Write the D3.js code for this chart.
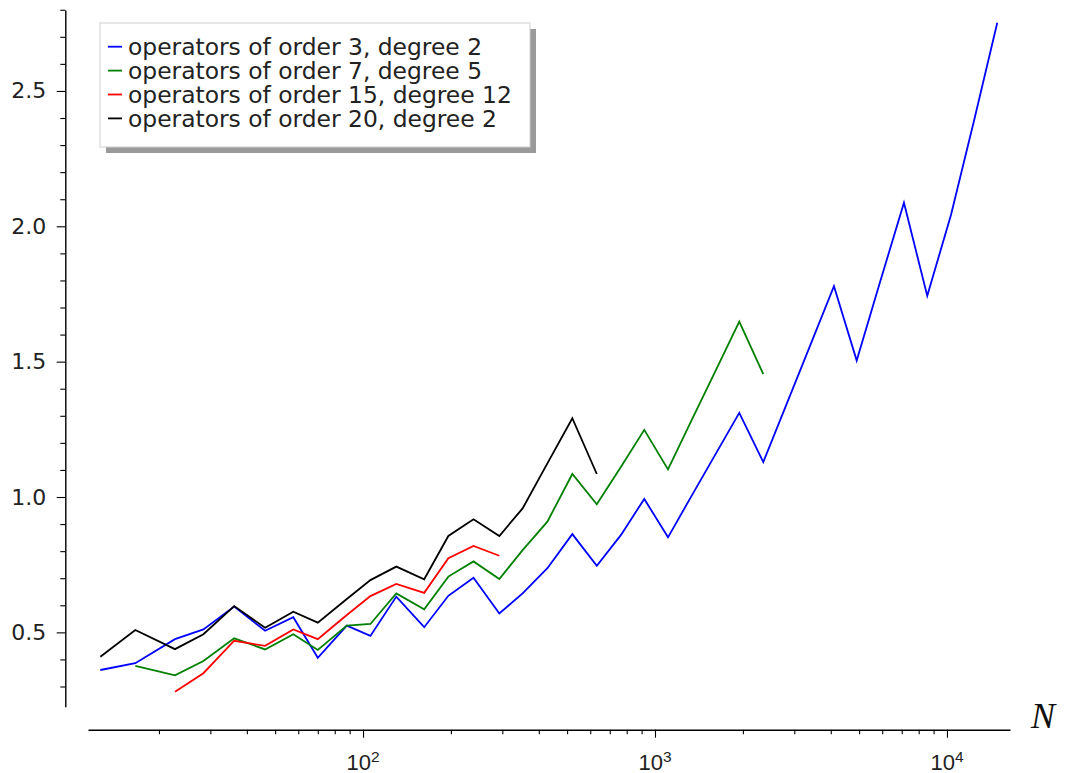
<!DOCTYPE html>
<html>
<head>
<meta charset="utf-8">
<script src="https://cdn.jsdelivr.net/npm/d3@7/dist/d3.min.js"></script>
<style>
  body { margin: 0; background: #fff; }
  svg { display: block; font-family: "DejaVu Sans", sans-serif; }
</style>
</head>
<body>
<svg id="chart" width="1065" height="773"></svg>
<script>
// N values shared by all series
var nValues = [12.6, 16.6, 22.7, 28.4, 36.2, 46.2, 57.7, 70, 88, 106, 130, 162, 196, 239, 293,
  352, 428, 521, 632, 765, 919, 1108, 1339, 1618, 1944, 2349, 2832, 3396, 4102, 4907, 5896,
  7124, 8561, 10320, 12372, 14870];

var order3 = [0.361, 0.386, 0.475, 0.511, 0.595, 0.506, 0.556, 0.406, 0.525, 0.487, 0.632,
  0.519, 0.635, 0.702, 0.570, 0.644, 0.737, 0.863, 0.746, 0.860, 0.993, 0.851, 1.007, 1.161,
  1.311, 1.129, 1.347, 1.558, 1.779, 1.504, 1.793, 2.087, 1.743, 2.042, 2.389, 2.752];
var order7 = [0.376, 0.341, 0.394, 0.478, 0.437, 0.493, 0.435, 0.525, 0.531, 0.644, 0.585,
  0.706, 0.762, 0.697, 0.804, 0.909, 1.085, 0.973, 1.112, 1.248, 1.102, 1.287, 1.470, 1.648, 1.454];
var order15 = [0.281, 0.349, 0.469, 0.450, 0.511, 0.475, 0.564, 0.634, 0.679, 0.646, 0.774,
  0.819, 0.783];
var order20 = [0.410, 0.509, 0.438, 0.493, 0.597, 0.517, 0.576, 0.536, 0.623, 0.693, 0.743,
  0.696, 0.856, 0.918, 0.856, 0.958, 1.124, 1.291, 1.085];

// first index into nValues for each series
var seriesStart = [0, 1, 2, 0];
var seriesNames = ["operators of order 3, degree 2", "operators of order 7, degree 5",
  "operators of order 15, degree 12", "operators of order 20, degree 2"];
var seriesColors = ["#0000ff", "#008000", "#ff0000", "#000000"];

var xMajor = [100, 1000, 10000];
var xMajorExp = ["2", "3", "4"];
var yMajor = [0.5, 1.0, 1.5, 2.0, 2.5];
var yMinor = [0.3, 0.4, 0.6, 0.7, 0.8, 0.9, 1.1, 1.2, 1.3, 1.4, 1.6, 1.7, 1.8, 1.9, 2.1, 2.2,
  2.3, 2.4, 2.6, 2.7, 2.8];

(function() {
  var svg = d3.select("#chart");

  var x = d3.scaleLog()
      .domain([11.43, 16440])
      .range([88, 1010]);

  var y = d3.scaleLinear()
      .domain([0.2254, 2.799])
      .range([706.7, 10]);

  // minor ticks on the log axis: 2..9 in every decade inside the domain
  var xMinor = [];
  [10, 100, 1000, 10000].forEach(function(d) {
    for (var k = 2; k <= 9; k++) {
      var v = d * k;
      if (v > x.domain()[0] && v < x.domain()[1]) xMinor.push(v);
    }
  });

  var xAxisY = 729.7, yAxisX = 65.3;

  // x axis
  var gx = svg.append("g").attr("transform", "translate(0," + xAxisY + ")");
  gx.call(d3.axisBottom(x).tickValues(xMinor).tickSize(4.5).tickSizeOuter(0).tickFormat(""));
  gx.call(function(g) {
    g.append("g")
      .call(d3.axisBottom(x).tickValues(xMajor).tickSize(8).tickSizeOuter(0).tickFormat(""))
      .select(".domain").remove();
  });
  gx.selectAll("line").attr("stroke", "#000").attr("stroke-width", 1.1);
  gx.select(".domain").attr("stroke", "#000").attr("stroke-width", 1.4);

  var xl = gx.selectAll(".xlabel")
    .data(xMajor)
    .enter().append("text")
      .attr("class", "xlabel")
      .attr("x", function(d) { return x(d); })
      .attr("y", 40.5)
      .attr("text-anchor", "middle")
      .attr("fill", "#222")
      .style("font-size", "22px");
  xl.append("tspan").text("10");
  xl.append("tspan")
      .attr("dy", "-0.55em")
      .style("font-size", "15.5px")
      .text(function(d, i) { return xMajorExp[i]; });

  svg.append("text")
      .attr("x", 1031)
      .attr("y", 728)
      .attr("fill", "#111")
      .style("font-family", "'Liberation Serif', serif")
      .style("font-style", "italic")
      .style("font-size", "36px")
      .text("N");

  // y axis
  var gy = svg.append("g").attr("transform", "translate(" + yAxisX + ",0)");
  gy.call(d3.axisLeft(y).tickValues(yMinor).tickSize(5).tickSizeOuter(0).tickFormat(""));
  gy.call(function(g) {
    g.append("g")
      .call(d3.axisLeft(y).tickValues(yMajor).tickSize(8.6).tickPadding(10.5)
        .tickSizeOuter(0).tickFormat(d3.format(".1f")))
      .select(".domain").remove();
  });
  gy.selectAll("line").attr("stroke", "#000").attr("stroke-width", 1.1);
  gy.select(".domain").attr("stroke", "#000").attr("stroke-width", 1.4);
  gy.selectAll("text")
      .attr("fill", "#222")
      .style("font-family", "'DejaVu Sans', sans-serif")
      .style("font-size", "22px");

  // series lines
  var series = [order3, order7, order15, order20].map(function(vals, i) {
    return vals.map(function(v, j) { return {n: nValues[seriesStart[i] + j], v: v}; });
  });

  var line = d3.line()
      .x(function(d) { return x(d.n); })
      .y(function(d) { return y(d.v); });

  svg.append("g").selectAll("path")
    .data(series)
    .enter().append("path")
      .attr("d", line)
      .attr("fill", "none")
      .attr("stroke", function(d, i) { return seriesColors[i]; })
      .attr("stroke-width", 1.8)
      .attr("stroke-linejoin", "miter");

  // legend with drop shadow
  var lg = svg.append("g").attr("transform", "translate(100,23)");
  lg.append("rect")
      .attr("x", 6).attr("y", 6)
      .attr("width", 430).attr("height", 124)
      .attr("fill", "#9a9a9a");
  lg.append("rect")
      .attr("width", 430).attr("height", 124)
      .attr("fill", "#fff")
      .attr("stroke", "#cfcfcf")
      .attr("stroke-width", 1);

  var rows = lg.selectAll(".legend")
    .data(seriesNames)
    .enter().append("g")
      .attr("class", "legend")
      .attr("transform", function(d, i) { return "translate(0," + (23.7 + i * 23.9) + ")"; });

  rows.append("line")
      .attr("x1", 8).attr("x2", 22)
      .attr("stroke", function(d, i) { return seriesColors[i]; })
      .attr("stroke-width", 1.8);

  rows.append("text")
      .attr("x", 28)
      .attr("dy", "0.36em")
      .attr("fill", "#222")
      .style("font-size", "23.4px")
      .text(function(d) { return d; });
})();
</script>
</body>
</html>
